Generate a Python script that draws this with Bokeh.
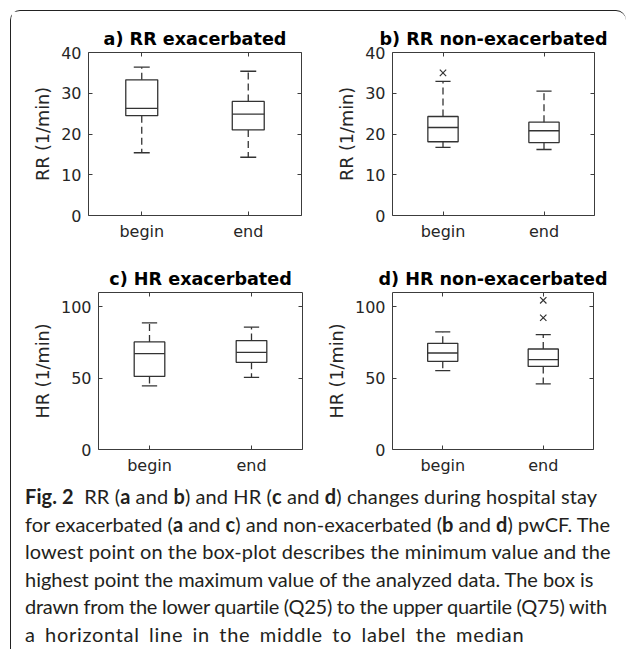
from bokeh.plotting import figure
from bokeh.models import Div, LinearAxis, FixedTicker, Range1d
from bokeh.layouts import column, row
from bokeh.embed import file_html
from bokeh.resources import INLINE

# ---------------- data ----------------
categories = ["begin", "end"]
# box statistics: [min, q25, median, q75, max]
rr_exac_begin = [15.4, 24.5, 26.3, 33.3, 36.4]
rr_exac_end = [14.3, 21.0, 24.9, 28.0, 35.4]
rr_non_begin = [16.7, 18.1, 21.6, 24.3, 32.9]
rr_non_end = [16.2, 17.9, 20.8, 22.9, 30.5]
hr_exac_begin = [44.6, 51.2, 67.2, 75.4, 88.7]
hr_exac_end = [50.5, 61.1, 68.1, 76.3, 85.7]
hr_non_begin = [55.2, 61.8, 67.6, 74.4, 82.4]
hr_non_end = [46.0, 58.2, 63.0, 70.4, 80.5]
# outliers
rr_non_begin_out = [35.0]
rr_non_end_out = []
hr_non_begin_out = []
hr_non_end_out = [92.3, 104.5]
rr_ticks = [0, 10, 20, 30, 40]
hr_ticks = [0, 50, 100]
rr_max = 40
hr_max = 110

caption_lines = [
    "<b>Fig. 2</b>&nbsp; RR (<b>a</b> and <b>b</b>) and HR (<b>c</b> and "
    "<b>d</b>) changes during hospital stay",
    "for exacerbated (<b>a</b> and <b>c</b>) and non-exacerbated (<b>b</b> and "
    "<b>d</b>) pwCF. The",
    "lowest point on the box-plot describes the minimum value and the",
    "highest point the maximum value of the analyzed data. The box is",
    "drawn from the lower quartile (Q25) to the upper quartile (Q75) with",
    "a horizontal line in the middle to label the median",
]
# per-line spacing (styling only) to mimic the original typesetting
line_letter_spacing = ["0.1px", "0px", "0.1px", "-0.03px", "-0.27px", "0.7px"]
line_word_spacing = ["0px", "0px", "0px", "0px", "0px", "3.6px"]

LINE = "#333333"
TXT = "#262626"
FONT = "DejaVu Sans"


def panel(title, ylabel, stats, outliers, yticks, ymax, frame_w, frame_h,
          bl, br, bt, bb):
    p = figure(width=bl + frame_w + br, height=bt + frame_h + bb,
               x_range=Range1d(0.5, 2.5), y_range=Range1d(0, ymax),
               output_backend="svg", toolbar_location=None, tools="",
               min_border_left=bl, min_border_right=br,
               min_border_top=bt, min_border_bottom=bb)
    p.title.text = title
    p.title.text_font = FONT
    p.title.text_font_size = "17.6px"
    p.title.text_font_style = "bold"
    p.title.text_color = "black"
    p.title.align = "center"
    p.title.standoff = 7
    p.xgrid.visible = False
    p.ygrid.visible = False
    p.outline_line_color = "#3c3c3c"
    p.outline_line_width = 1
    p.outline_line_alpha = 1

    pos = [i + 1 for i in range(len(categories))]
    p.xaxis.ticker = FixedTicker(ticks=pos)
    p.xaxis.major_label_overrides = {pp: c for pp, c in zip(pos, categories)}
    p.yaxis.ticker = FixedTicker(ticks=yticks)
    p.yaxis.axis_label = ylabel
    for ax in (p.xaxis[0], p.yaxis[0]):
        ax.major_tick_in = 4
        ax.major_tick_out = 0
        ax.minor_tick_line_color = None
        ax.axis_line_color = None
        ax.major_tick_line_color = "#3c3c3c"
        ax.major_label_text_font = FONT
        ax.major_label_text_font_size = "16px"
        ax.major_label_text_color = TXT
    p.xaxis.major_label_standoff = 6
    p.yaxis.major_label_standoff = 7
    p.yaxis.axis_label_standoff = 5
    p.yaxis.axis_label_text_font = FONT
    p.yaxis.axis_label_text_font_size = "17.6px"
    p.yaxis.axis_label_text_font_style = "normal"
    p.yaxis.axis_label_text_color = TXT

    # mirrored ticks (box on), no labels
    rax = LinearAxis(ticker=FixedTicker(ticks=yticks))
    tax = LinearAxis(ticker=FixedTicker(ticks=pos))
    for ax in (rax, tax):
        ax.major_tick_in = 4
        ax.major_tick_out = 0
        ax.minor_tick_line_color = None
        ax.axis_line_color = None
        ax.major_tick_line_color = "#3c3c3c"
        ax.major_label_text_font_size = "1px"
        ax.major_label_text_color = None
        ax.major_label_standoff = 0
    p.add_layout(rax, "right")
    p.add_layout(tax, "above")

    hw = 0.15
    cw = 0.075
    for x, s, outs in zip(pos, stats, outliers):
        mn, q1, med, q3, mx = s
        p.quad(left=[x - hw], right=[x + hw], bottom=[q1], top=[q3],
               fill_color=None, line_color=LINE, line_width=1.3)
        p.segment(x0=[x - hw], x1=[x + hw], y0=[med], y1=[med],
                  line_color=LINE, line_width=1.3)
        p.segment(x0=[x, x], x1=[x, x], y0=[q3, q1], y1=[mx, mn],
                  line_color=LINE, line_width=1.3, line_dash="7 4")
        p.segment(x0=[x - cw, x - cw], x1=[x + cw, x + cw], y0=[mx, mn],
                  y1=[mx, mn], line_color=LINE, line_width=1.3)
        if outs:
            p.scatter(x=[x] * len(outs), y=outs, marker="x", size=9,
                      line_color=LINE, line_width=1.2)
    return p


pa = panel("a) RR exacerbated", "RR (1/min)", [rr_exac_begin, rr_exac_end],
           [[], []], rr_ticks, rr_max, 213, 163, 77, 10, 41, 30)
pb = panel("b) RR non-exacerbated", "RR (1/min)", [rr_non_begin, rr_non_end],
           [rr_non_begin_out, rr_non_end_out], rr_ticks, rr_max, 202, 163,
           81, 18, 41, 30)
pc = panel("c) HR exacerbated", "HR (1/min)", [hr_exac_begin, hr_exac_end],
           [[], []], hr_ticks, hr_max, 204, 157, 87, 4, 47, 29)
pd = panel("d) HR non-exacerbated", "HR (1/min)", [hr_non_begin, hr_non_end],
           [hr_non_begin_out, hr_non_end_out], hr_ticks, hr_max, 201, 157,
           86, 20, 47, 29)

caption_html = "<br>".join(
    f'<span style="letter-spacing:{ls};word-spacing:{ws}">{t}</span>'
    for t, ls, ws in zip(caption_lines, line_letter_spacing, line_word_spacing)
)
caption = Div(text=caption_html, width=605, height=165,
              styles={"font-family": "Lato", "font-size": "20px",
                      "line-height": "27.5px", "color": "#231f20",
                      "padding-left": "9px", "white-space": "nowrap"})

layout = column(row(pa, pb), row(pc, pd), caption, spacing=0,
                styles={"border-top": "1.2px solid #222",
                        "border-left": "1.2px solid #222",
                        "border-top-left-radius": "10px",
                        "border-top-right-radius": "10px"},
                margin=(10, 0, 0, 10))

html = file_html(layout, INLINE, title="Fig. 2")
open("out.html", "w").write(html)
